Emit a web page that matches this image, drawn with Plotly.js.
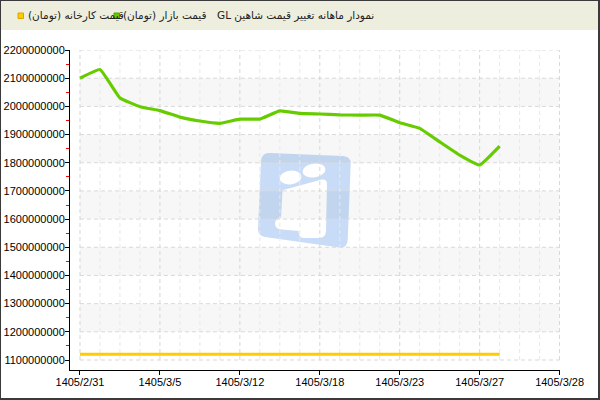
<!DOCTYPE html>
<html>
<head>
<meta charset="utf-8">
<script src="https://cdn.plot.ly/plotly-3.0.1.min.js"></script>
<style>
html,body{margin:0;padding:0;background:#fff;}
#frame{box-sizing:border-box;width:600px;height:400px;border:1px solid #3a3a3a;border-right-width:2px;border-bottom-width:2px;
background:linear-gradient(#eeeedf 0px,#eeeedf 29px,#ffffff 29px);}
#chart{width:597px;height:397px;}
</style>
</head>
<body>
<div id="frame"><div id="chart"></div></div>
<script>
// ---- data ----
var chartTitle = "نمودار ماهانه تغییر قیمت شاهین GL";
var seriesNames = ["قیمت کارخانه (تومان)", "قیمت بازار (تومان)"];
var seriesColors = ["#ffcc00", "#66cc00"];
var xIndex = [0,1,2,3,4,5,6,7,8,9,10,11,12,13,14,15,16,17,18,19,20,21];
var factoryPrice = [1120000000,1120000000,1120000000,1120000000,1120000000,1120000000,1120000000,1120000000,1120000000,1120000000,1120000000,1120000000,1120000000,1120000000,1120000000,1120000000,1120000000,1120000000,1120000000,1120000000,1120000000,1120000000];
var marketPrice = [2100000000,2131000000,2030000000,1999000000,1985000000,1962000000,1948000000,1940000000,1955000000,1955000000,1984000000,1975000000,1973000000,1970000000,1969000000,1969000000,1942000000,1922000000,1874000000,1827000000,1792000000,1859000000];
var xTickVals = [0,4,8,12,16,20,24];
var xTickLabels = ["1405/2/31","1405/3/5","1405/3/12","1405/3/18","1405/3/23","1405/3/27","1405/3/28"];
var yTicks = [1100000000,1200000000,1300000000,1400000000,1500000000,1600000000,1700000000,1800000000,1900000000,2000000000,2100000000,2200000000];

// ---- helpers (page pixel -> paper) ----
function px(x){ return (x-70)/490; }
function py(y){ return (370-y)/320; }

var xMin = xTickVals[0], xMax = xTickVals[xTickVals.length-1];
var yMin = yTicks[0], yMax = yTicks[yTicks.length-1];

var shapes = [];
// alternating bands
for (var i=0;i<yTicks.length-1;i++){
  if (i%2===1){
    shapes.push({type:'rect',xref:'x',yref:'y',x0:xMin,x1:xMax,y0:yTicks[i],y1:yTicks[i+1],
      fillcolor:'rgba(0,0,0,0.03)',line:{width:0},layer:'below'});
  }
}
// horizontal grid
yTicks.forEach(function(v){
  shapes.push({type:'line',xref:'x',yref:'y',x0:xMin,x1:xMax,y0:v,y1:v,
    line:{color:'#d9d9d9',width:1,dash:'4px,3px'},layer:'below'});
});
// vertical grid
for (var k=xMin;k<=xMax;k++){
  var major = xTickVals.indexOf(k)>=0;
  shapes.push({type:'line',xref:'x',yref:'y',x0:k,x1:k,y0:yMin,y1:yMax,
    line:{color:major?'#d6d6d6':'#e8e8e8',width:1,dash:'4px,3px'},layer:'below'});
}
// legend squares
shapes.push({type:'rect',xref:'paper',yref:'paper',x0:px(18),x1:px(23.5),y0:py(18.5),y1:py(13),
  fillcolor:seriesColors[0],line:{color:'#d9a400',width:1}});
shapes.push({type:'rect',xref:'paper',yref:'paper',x0:px(114),x1:px(119.5),y0:py(18.5),y1:py(13),
  fillcolor:seriesColors[1],line:{color:'#4fa000',width:1}});

var titleFont = {family:'DejaVu Sans, sans-serif',size:10.5,color:'#222'};
var legFont = {family:'DejaVu Sans, sans-serif',size:10.5,color:'#222'};
var annotations = [
  {xref:'paper',yref:'paper',x:px(376),y:py(15.5),xanchor:'right',yanchor:'middle',showarrow:false,
   text:'\u202B'+chartTitle+'\u202C',font:titleFont},
  {xref:'paper',yref:'paper',x:px(26),y:py(15.5),xanchor:'left',yanchor:'middle',showarrow:false,
   text:seriesNames[0],font:legFont},
  {xref:'paper',yref:'paper',x:px(121),y:py(15.5),xanchor:'left',yanchor:'middle',showarrow:false,
   text:seriesNames[1],font:legFont}
];

var logoSvg = '<svg xmlns="http://www.w3.org/2000/svg" viewBox="70 50 490 320" preserveAspectRatio="none" width="490" height="320">'+
 '<path d="M270,153 L343,156 Q351,156.5 350.7,164 L347.7,240 Q347.3,248.5 339,247.5 L265,237 Q257.5,236 258,228 L261,161 Q261.7,152.5 270,153 Z" fill="#c9dcf7"/>'+
 '<ellipse cx="290.5" cy="177.5" rx="11" ry="6.8" transform="rotate(-8 290.5 177.5)" fill="#fff"/>'+
 '<ellipse cx="314" cy="170.5" rx="11.5" ry="6.8" transform="rotate(-8 314 170.5)" fill="#fff"/>'+
 '<path d="M283.5,191 L322,180.5 Q326,180 326,184 L325,231 Q325,237 319,237 L303,237 Q299.5,236.5 299.5,230 L282,228.5 Q276,228 276,224 Q276,219 282,218.3 Z" fill="#fff" stroke="#fff" stroke-width="2" stroke-linejoin="round"/>'+
 '</svg>';

var traces = [
  {type:'scatter',mode:'lines',name:seriesNames[0],x:xIndex,y:factoryPrice,
   line:{color:seriesColors[0],width:3},hoverinfo:'skip'},
  {type:'scatter',mode:'lines',name:seriesNames[1],x:xIndex,y:marketPrice,
   line:{color:seriesColors[1],width:3.2,shape:'spline',smoothing:0.3},hoverinfo:'skip'}
];

var tickFont = {family:'Liberation Sans, Arial, sans-serif',size:11,color:'#000'};

var layout = {
  width:597,height:397,autosize:false,
  margin:{l:69,r:38,t:49,b:28,pad:0},
  paper_bgcolor:'rgba(0,0,0,0)',plot_bgcolor:'rgba(0,0,0,0)',
  showlegend:false,
  xaxis:{range:[-0.5,24.02],tickmode:'array',tickvals:xTickVals,ticktext:xTickLabels,
    showline:true,linecolor:'#000',linewidth:1,ticks:'outside',ticklen:4,tickcolor:'#000',
    ticklabelstandoff:-2,
    showgrid:false,zeroline:false,tickfont:tickFont,fixedrange:true},
  yaxis:{range:[1064.5e6,2200.1e6],tickmode:'linear',tick0:yMin,dtick:yTicks[1]-yTicks[0],tickformat:'d',
    showline:true,linecolor:'#000',linewidth:1,ticks:'outside',ticklen:4,tickcolor:'#000',
    ticklabelstandoff:-2,
    showgrid:false,zeroline:false,tickfont:tickFont,fixedrange:true,
    minor:{dtick:(yTicks[1]-yTicks[0])/2,tick0:yMin,ticks:'outside',ticklen:3,tickcolor:'#ff0000',showgrid:false}},
  shapes:shapes,
  annotations:annotations,
  images:[{source:'data:image/svg+xml;charset=utf-8,'+encodeURIComponent(logoSvg),
    xref:'paper',yref:'paper',x:0,y:1,sizex:1,sizey:1,xanchor:'left',yanchor:'top',sizing:'stretch',layer:'below'}]
};

Plotly.newPlot('chart',traces,layout,{displayModeBar:false,staticPlot:true});
</script>
</body>
</html>
